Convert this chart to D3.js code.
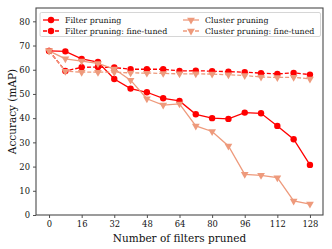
<!doctype html>
<html lang="en">
<head>
<meta charset="UTF-8">
<title>Filters pruned vs accuracy</title>
<script src="https://d3js.org/d3.v7.min.js"></script>
<style>
  body { margin: 0; background: #fff; }
  svg text { font-family: "DejaVu Serif", serif; fill: #111; }
</style>
</head>
<body>
<svg id="chart" width="332" height="249"></svg>
<script>
// data
var filtersPruned = [0, 8, 16, 24, 32, 40, 48, 56, 64, 72, 80, 88, 96, 104, 112, 120, 128];
var filterPruning = [67.8, 67.6, 64.5, 63.2, 56.2, 52.2, 50.7, 48.2, 47.1, 41.6, 40.0, 39.7, 42.3, 42.0, 36.8, 31.3, 20.7];
var filterFineTuned = [67.8, 59.5, 61.0, 61.1, 60.9, 60.2, 60.2, 60.2, 59.5, 59.6, 59.4, 59.2, 59.0, 58.6, 58.3, 58.7, 58.0];
var clusterPruning = [67.8, 64.5, 63.6, 62.6, 60.3, 55.7, 48.0, 45.4, 45.9, 36.8, 34.5, 28.5, 16.8, 16.4, 15.4, 5.8, 4.5];
var clusterFineTuned = [67.8, 59.4, 59.0, 59.0, 59.0, 58.7, 58.6, 58.5, 58.3, 58.3, 58.2, 57.9, 57.6, 57.0, 56.8, 56.9, 56.2];
var xTicks = [0, 16, 32, 48, 64, 80, 96, 112, 128];
var yTicks = [0, 10, 20, 30, 40, 50, 60, 70, 80];
var seriesNames = ["Filter pruning", "Filter pruning: fine-tuned", "Cluster pruning", "Cluster pruning: fine-tuned"];

var red = "#ff0000", salmon = "#ee9a7c";
var series = [
  { name: seriesNames[0], values: filterPruning, color: red, dash: null, marker: "circle" },
  { name: seriesNames[1], values: filterFineTuned, color: red, dash: "4,2", marker: "circle" },
  { name: seriesNames[2], values: clusterPruning, color: salmon, dash: null, marker: "tri" },
  { name: seriesNames[3], values: clusterFineTuned, color: salmon, dash: "4,2", marker: "tri" }
];

var m = { left: 36, right: 9, top: 8, bottom: 34 };
var W = 332, H = 249;
var svg = d3.select("#chart");

var x = d3.scaleLinear().domain([-6.4, 134.4]).range([m.left, W - m.right]);
var y = d3.scaleLinear().domain([0, 85.5]).range([H - m.bottom, m.top]);

// axes
var xAxis = svg.append("g")
    .attr("transform", "translate(0," + (H - m.bottom) + ")")
    .call(d3.axisBottom(x).tickValues(xTicks).tickSize(3).tickPadding(3.5));
var yAxis = svg.append("g")
    .attr("transform", "translate(" + m.left + ",0)")
    .call(d3.axisLeft(y).tickValues(yTicks).tickSize(3).tickPadding(3));
[xAxis, yAxis].forEach(function(a) {
  a.select(".domain").remove();
  a.selectAll("line").attr("stroke", "#222").attr("stroke-width", 0.8);
  a.selectAll("text").attr("font-size", 8.4).attr("font-family", "DejaVu Serif").attr("fill", "#111");
});

// frame
svg.append("rect")
    .attr("x", m.left).attr("y", m.top)
    .attr("width", W - m.left - m.right).attr("height", H - m.top - m.bottom)
    .attr("fill", "none").attr("stroke", "#4a4a4a").attr("stroke-width", 1.1);

var line = d3.line()
    .x(function(d, i) { return x(filtersPruned[i]); })
    .y(function(d) { return y(d); });

var tri = d3.symbol().type(d3.symbolTriangle).size(26);

function drawMarker(g, kind, color) {
  if (kind === "circle") {
    g.append("circle").attr("r", 3.2).attr("fill", color);
  } else {
    g.append("path").attr("d", tri).attr("transform", "rotate(180)").attr("fill", color);
  }
}

series.forEach(function(s) {
  var g = svg.append("g");
  g.append("path")
      .datum(s.values)
      .attr("d", line)
      .attr("fill", "none")
      .attr("stroke", s.color)
      .attr("stroke-width", 1.3)
      .attr("stroke-dasharray", s.dash);
  s.values.forEach(function(v, i) {
    var mk = g.append("g").attr("transform", "translate(" + x(filtersPruned[i]) + "," + y(v) + ")");
    drawMarker(mk, s.marker, s.color);
  });
});

// legend
var lg = svg.append("g");
lg.append("rect")
    .attr("x", 40).attr("y", 12.5).attr("width", 280.5).attr("height", 24)
    .attr("rx", 1.5)
    .attr("fill", "#fff").attr("fill-opacity", 0.85)
    .attr("stroke", "#ccc").attr("stroke-width", 0.8);
var colX = [43, 183], rowY = [20, 31];
series.forEach(function(s, i) {
  var cx = colX[Math.floor(i / 2)], cy = rowY[i % 2];
  lg.append("line")
      .attr("x1", cx).attr("x2", cx + 16).attr("y1", cy).attr("y2", cy)
      .attr("stroke", s.color).attr("stroke-width", 1.3)
      .attr("stroke-dasharray", s.dash);
  var mk = lg.append("g").attr("transform", "translate(" + (cx + 8) + "," + cy + ")");
  drawMarker(mk, s.marker, s.color);
  lg.append("text")
      .attr("x", cx + 22).attr("y", cy).attr("dy", "0.35em")
      .attr("font-size", 7.9)
      .text(s.name);
});

// axis labels
svg.append("text")
    .attr("x", (m.left + W - m.right) / 2).attr("y", 242)
    .attr("text-anchor", "middle").attr("font-size", 10.5)
    .text("Number of filters pruned");
svg.append("text")
    .attr("transform", "translate(12," + ((m.top + H - m.bottom) / 2) + ") rotate(-90)")
    .attr("text-anchor", "middle").attr("dy", "0.35em").attr("font-size", 10.5)
    .text("Accuracy (mAP)");
</script>
</body>
</html>
